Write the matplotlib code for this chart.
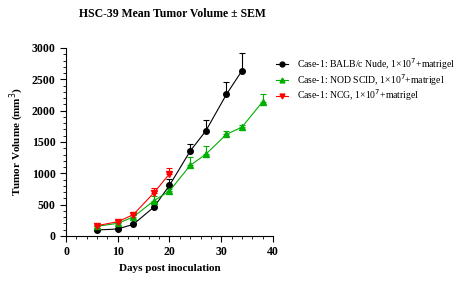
import matplotlib
matplotlib.use('Agg')
import matplotlib.pyplot as plt
from matplotlib.ticker import MultipleLocator

plt.rcParams['font.family'] = ['Liberation Serif', 'DejaVu Serif']

# data
days_nude = [6, 10, 13, 17, 20, 24, 27, 31, 34]
vol_nude = [96, 112, 186, 462, 808, 1356, 1675, 2260, 2637]
sem_nude = [15, 15, 20, 50, 100, 110, 170, 190, 280]

days_scid = [6, 10, 13, 17, 20, 24, 27, 31, 34, 38]
vol_scid = [155, 202, 303, 563, 718, 1127, 1303, 1622, 1738, 2142]
sem_scid = [15, 20, 25, 70, 30, 140, 130, 60, 40, 120]

days_ncg = [6, 10, 13, 17, 20]
vol_ncg = [165, 228, 340, 690, 993]
sem_ncg = [15, 20, 30, 70, 85]

labels = ['Case-1: BALB/c Nude, 1\u00d710$^7$+matrigel',
          'Case-1: NOD SCID, 1\u00d710$^7$+matrigel',
          'Case-1: NCG, 1\u00d710$^7$+matrigel']

fig = plt.figure(figsize=(4.62, 2.95), dpi=100)
ax = fig.add_axes([66/462, 1-236/295, (273-66)/462, (236-48)/295])

series = [(days_nude, vol_nude, sem_nude, 'black', 'o'),
          (days_scid, vol_scid, sem_scid, '#00b000', '^'),
          (days_ncg, vol_ncg, sem_ncg, 'red', 'v')]
handles = []
for (x, y, e, c, m), lab in zip(series, labels):
    ax.errorbar(x, y, yerr=[[0]*len(e), e], color=c, marker=m, ms=4,
                lw=0.8, elinewidth=0.8, capsize=2.5, capthick=0.8)
    h, = ax.plot([], [], color=c, marker=m, ms=3.5, lw=0.8, label=lab)
    handles.append(h)

ax.set_xlim(0, 40)
ax.set_ylim(0, 3000)
ax.xaxis.set_major_locator(MultipleLocator(10))
ax.xaxis.set_minor_locator(MultipleLocator(2))
ax.yaxis.set_major_locator(MultipleLocator(500))
ax.yaxis.set_minor_locator(MultipleLocator(100))
ax.spines['top'].set_visible(False)
ax.spines['right'].set_visible(False)
ax.tick_params(which='major', length=4, width=0.8, labelsize=8.5)
ax.tick_params(which='minor', length=2, width=0.6)
for t in ax.get_xticklabels() + ax.get_yticklabels():
    t.set_fontweight('bold')

ax.set_xlabel('Days post inoculation', fontsize=8, fontweight='bold')
ax.set_ylabel('Tumor Volume (mm$^3$)', fontsize=8, fontweight='bold')
fig.text(172/462, 1-14/295, 'HSC-39 Mean Tumor Volume \u00b1 SEM',
         ha='center', va='center', fontsize=8.5, fontweight='bold')

fig.legend(handles=handles, loc='upper left',
           bbox_to_anchor=(276/462, 1-56/295), frameon=False,
           fontsize=7, handlelength=1.2, handletextpad=1.0,
           labelspacing=0.0, borderaxespad=0, borderpad=0)

fig.savefig('out.png', dpi=100)
